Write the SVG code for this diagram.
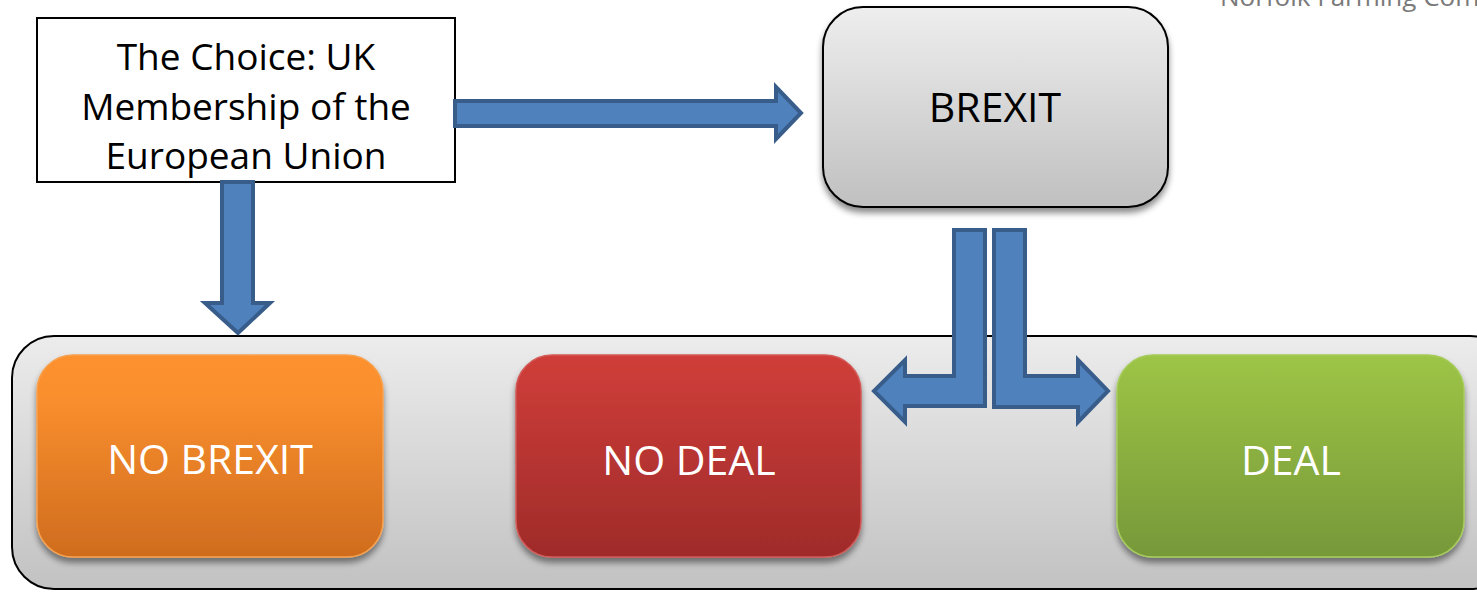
<svg xmlns="http://www.w3.org/2000/svg" width="1477" height="592" viewBox="0 0 1477 592">
<style>
text{font-family:"Open Sans","Noto Sans","Liberation Sans",sans-serif}
.arrow{fill:#4f81bd;stroke:#385d8a;stroke-width:4;stroke-linejoin:miter}
.lbl{font-size:41px;text-anchor:middle}
.white{fill:#ffffff}
.dark{fill:#000000}
</style>
<defs>
<linearGradient id="gGray" x1="0" y1="0" x2="0" y2="1"><stop offset="0" stop-color="#eeeeee"/><stop offset="1" stop-color="#c0c0c0"/></linearGradient>
<linearGradient id="gCont" x1="0" y1="0" x2="0" y2="1"><stop offset="0" stop-color="#ececec"/><stop offset="1" stop-color="#c2c2c2"/></linearGradient>
<linearGradient id="gOrange" x1="0" y1="0" x2="0" y2="1"><stop offset="0" stop-color="#fd912f"/><stop offset="0.2" stop-color="#fa8f2e"/><stop offset="1" stop-color="#cf6c1e"/></linearGradient>
<linearGradient id="gRed" x1="0" y1="0" x2="0" y2="1"><stop offset="0" stop-color="#d03e3a"/><stop offset="1" stop-color="#9f2b29"/></linearGradient>
<linearGradient id="gGreen" x1="0" y1="0" x2="0" y2="1"><stop offset="0" stop-color="#9dc546"/><stop offset="1" stop-color="#779839"/></linearGradient>
<filter id="shadow" x="-10%" y="-10%" width="120%" height="130%"><feDropShadow dx="0" dy="5" stdDeviation="3" flood-color="#000" flood-opacity="0.45"/></filter>
</defs>
<rect width="1477" height="592" fill="#ffffff"/>
<text x="1220" y="6" font-size="26" fill="#7a7a7a">Norfolk Farming Com</text>

<g id="container">
<rect x="12" y="336" width="1500" height="253" rx="42" fill="url(#gCont)" stroke="#000" stroke-width="2"/>
</g>

<g id="choice">
<rect x="37" y="18" width="418" height="164" fill="#ffffff" stroke="#000" stroke-width="2"/>
<text class="dark" font-size="37" text-anchor="middle"><tspan x="246" y="70">The Choice: UK</tspan><tspan x="246" y="120">Membership of the</tspan><tspan x="246" y="169">European Union</tspan></text>
</g>

<g id="brexit">
<rect x="823" y="7" width="345" height="200" rx="40" fill="url(#gGray)" stroke="#000" stroke-width="2" filter="url(#shadow)"/>
<text class="lbl dark" x="995" y="122">BREXIT</text>
</g>

<g id="nobrexit">
<rect x="37" y="355" width="346" height="202" rx="36" fill="url(#gOrange)" stroke="#f7a14f" stroke-width="1.5" filter="url(#shadow)"/>
<text class="lbl white" x="210" y="474">NO BREXIT</text>
</g>

<g id="nodeal">
<rect x="516" y="355" width="345" height="202" rx="36" fill="url(#gRed)" stroke="#d25a57" stroke-width="1.5" filter="url(#shadow)"/>
<text class="lbl white" x="689" y="475">NO DEAL</text>
</g>

<g id="deal">
<rect x="1117" y="355" width="347" height="202" rx="36" fill="url(#gGreen)" stroke="#a6cc5c" stroke-width="1.5" filter="url(#shadow)"/>
<text class="lbl white" x="1291" y="475">DEAL</text>
</g>

<g id="connectors">
<polygon class="arrow" points="455,101 776,101 776,87 801,113 776,139 776,126 455,126"/>
<polygon class="arrow" points="222,182 253,182 253,303 270,303 238,333 205,303 222,303"/>
<polygon class="arrow" points="954,230 985,230 985,406 905,406 905,422 874,391 905,360 905,376 954,376"/>
<polygon class="arrow" points="994,230 1025,230 1025,376 1078,376 1078,360 1108,391 1078,422 1078,407 994,407"/>
</g>
</svg>
